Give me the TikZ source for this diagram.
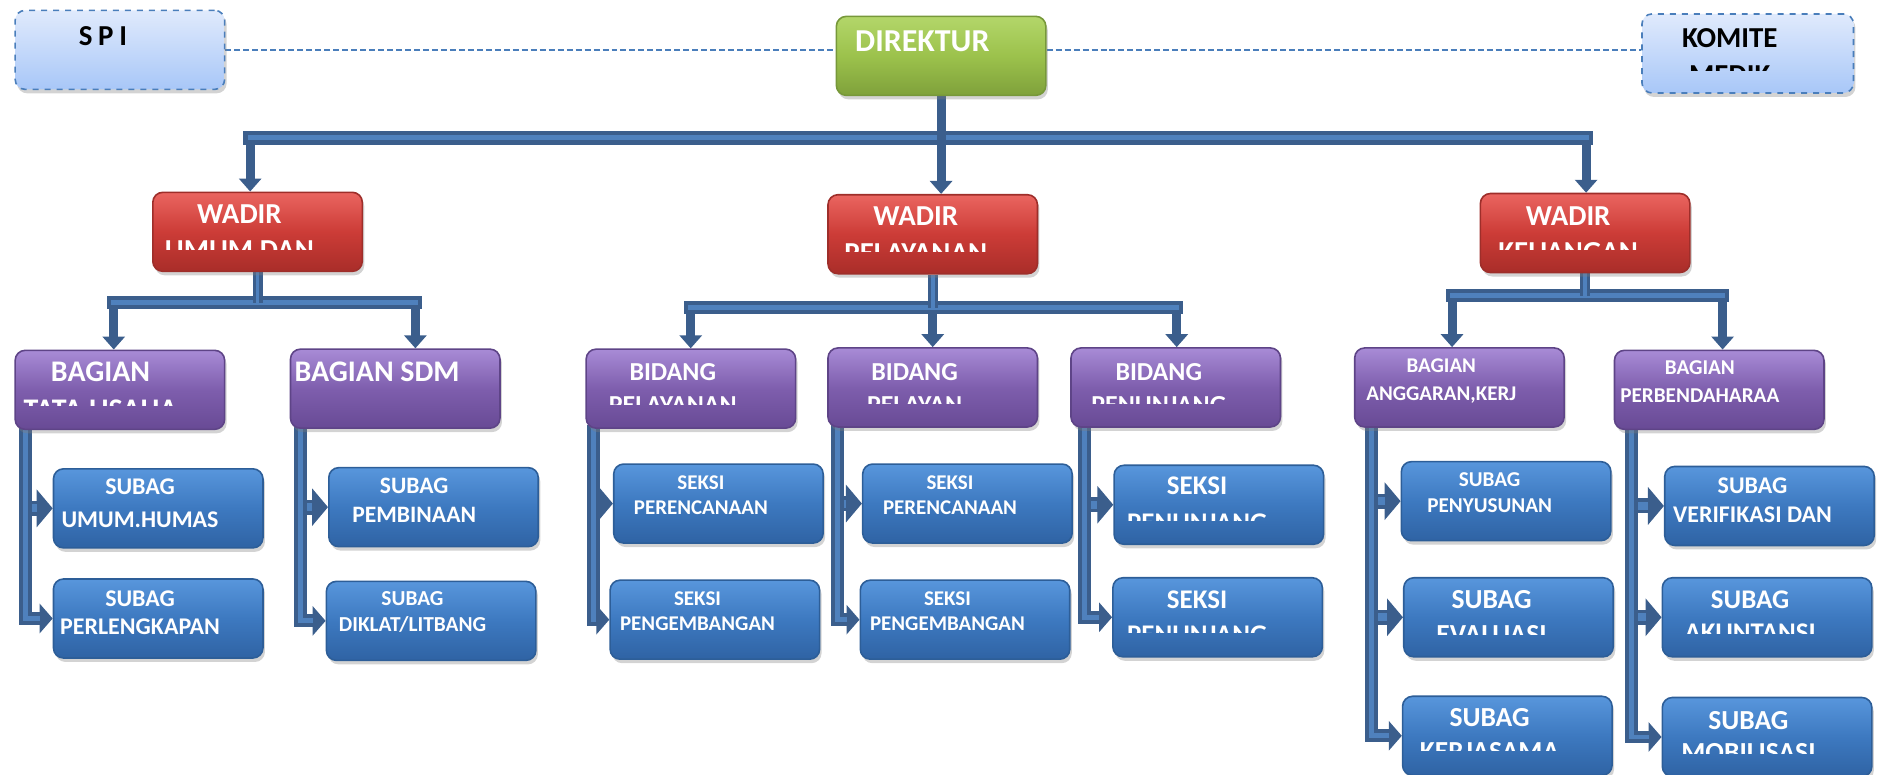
\documentclass[tikz,border=0pt]{standalone}
\usepackage{fontspec}
\setmainfont{Carlito}
\usetikzlibrary{arrows.meta,shadows,backgrounds}

\definecolor{linedark}{HTML}{3B5E8C}
\definecolor{linelight}{HTML}{4F81BD}
\definecolor{sideline}{HTML}{4A7EBB}
\definecolor{sidetop}{HTML}{E0EAFC}
\definecolor{sidebot}{HTML}{A8C7F8}
\definecolor{headline}{HTML}{77983A}
\definecolor{headtop}{HTML}{B3D66A}
\definecolor{headmid}{HTML}{9CC24C}
\definecolor{headbot}{HTML}{7FA13B}
\definecolor{wadirline}{HTML}{9E2E2A}
\definecolor{wadirtop}{HTML}{EA6560}
\definecolor{wadirmid}{HTML}{CC3C37}
\definecolor{wadirbot}{HTML}{A92D29}
\definecolor{unitline}{HTML}{5E4487}
\definecolor{unittop}{HTML}{A88BD6}
\definecolor{unitmid}{HTML}{7E5EAD}
\definecolor{unitbot}{HTML}{684A95}
\definecolor{subline}{HTML}{2D5E98}
\definecolor{subtop}{HTML}{5896DC}
\definecolor{submid}{HTML}{3D79C0}
\definecolor{subbot}{HTML}{2F63A4}

\begin{document}
\begin{tikzpicture}[x=0.6pt, y=-0.6pt,
  box/.style={rounded corners=5pt, minimum width=105pt, minimum height=39.6pt, anchor=north west, line width=0.8pt,
    drop shadow={shadow xshift=1pt, shadow yshift=-2pt, opacity=0.35}},
  sidebox/.style={box, draw=sideline, dashed, top color=sidetop, bottom color=sidebot},
  headbox/.style={box, draw=headline, top color=headtop, bottom color=headbot, middle color=headmid},
  wadirbox/.style={box, draw=wadirline, top color=wadirtop, bottom color=wadirbot, middle color=wadirmid},
  unitbox/.style={box, draw=unitline, top color=unittop, bottom color=unitbot, middle color=unitmid},
  subbox/.style={box, draw=subline, top color=subtop, bottom color=subbot, middle color=submid},
  lbl/.style 2 args={font=\fontsize{#1}{#2}\selectfont\bfseries, text=white, align=center, inner sep=0pt, anchor=north},
  bus/.style={draw=linedark, line width=7pt, line cap=rect, postaction={draw=linelight, line width=2.5pt}},
  stem/.style={draw=linedark, line width=5pt, postaction={draw=linelight, line width=1.8pt}},
  drop/.style={draw=linedark, line width=4.5pt, -{Triangle[length=6.5pt,width=11pt]}},
  trunk/.style={draw=linedark, line width=6.5pt, -{Triangle[length=6.5pt,width=14.5pt]},
    postaction={draw=linelight, line width=2.5pt, -, shorten >=6.5pt}},
  branch/.style={draw=linedark, line width=7.5pt, -{Triangle[length=8pt,width=18.5pt]},
    postaction={draw=linelight, line width=4pt, -, shorten >=8pt}},
  dashline/.style={draw=sideline, line width=0.8pt, dash pattern=on 3pt off 1.5pt}]
  \useasboundingbox (0,0) rectangle (1568,647);

  % top row
  \node[sidebox] (spi) at (12,8) {};
  \node[headbox] (dir) at (698,13) {};
  \node[sidebox, minimum width=106pt] (kom) at (1371,11) {};
  \node[lbl={14.5}{17}, text=black] (spit) at (86,21.5) {{\spaceskip=0.2em S P I}};
  \node[lbl={16}{19}] (dirt) at (770.5,25) {DIREKTUR};
  \begin{scope}
    \clip (kom.north west) rectangle (kom.east |- 0,58.5);
    \node[lbl={14.5}{18.4}, text=black] (komt) at (1445,23.7) {KOMITE\\MEDIK};
  \end{scope}

  % wakil direktur
  \node[wadirbox] (wum) at (127,160) {};
  \node[wadirbox] (wpl) at (691,162) {};
  \node[wadirbox] (wku) at (1236,161) {};
  \begin{scope}
    \clip (wum.north west) rectangle (wum.east |- 0,208.3);
    \node[lbl={14.5}{18}] (wumt) at (200,171) {WADIR\\UMUM DAN};
  \end{scope}
  \begin{scope}
    \clip (wpl.north west) rectangle (wpl.east |- 0,210);
    \node[lbl={14.5}{18.5}] (wplt) at (765,172.7) {WADIR\\PELAYANAN};
  \end{scope}
  \begin{scope}
    \clip (wku.north west) rectangle (wku.east |- 0,208.3);
    \node[lbl={14.5}{18}] (wkut) at (1310,172.6) {WADIR\\KEUANGAN};
  \end{scope}

  % bagian / bidang
  \node[unitbox] (btu) at (12,292) {};
  \node[unitbox] (bsdm) at (242,291) {};
  \node[unitbox] (bpl) at (489,291) {};
  \node[unitbox] (bpy) at (691,290) {};
  \node[unitbox] (bpn) at (894,290) {};
  \node[unitbox] (bag) at (1131,290) {};
  \node[unitbox] (bbd) at (1348,292) {};
  \begin{scope}
    \clip (btu.north west) rectangle (btu.east |- 0,339);
    \node[lbl={15}{19}] (btut) at (84,302) {BAGIAN\\TATA USAHA};
  \end{scope}
  \node[lbl={15}{19}] (bsdmt) at (315,302) {BAGIAN SDM};
  \begin{scope}
    \clip (bpl.north west) rectangle (bpl.east |- 0,338);
    \node[lbl={13}{16.5}] (bplt) at (562,303) {BIDANG\\PELAYANAN};
  \end{scope}
  \begin{scope}
    \clip (bpy.north west) rectangle (bpy.east |- 0,337);
    \node[lbl={13}{16.5}] (bpyt) at (764,303) {BIDANG\\PELAYAN};
  \end{scope}
  \begin{scope}
    \clip (bpn.north west) rectangle (bpn.east |- 0,337);
    \node[lbl={13}{16.5}] (bpnt) at (968,303) {BIDANG\\PENUNJANG};
  \end{scope}
  \node[lbl={10.5}{13.8}] (bagt) at (1204,299.4) {BAGIAN\\ANGGARAN,KERJ};
  \node[lbl={10.6}{13.6}] (bbdt) at (1420,301.3) {BAGIAN\\PERBENDAHARAA};

  % subbagian / seksi
  \node[subbox] (shum) at (44,391) {};
  \node[subbox] (sprl) at (44,483) {};
  \node[subbox] (spmb) at (274,390) {};
  \node[subbox] (sdik) at (272,485) {};
  \node[subbox] (sper1) at (512,387) {};
  \node[subbox] (speng1) at (509,484) {};
  \node[subbox] (sper2) at (720,387) {};
  \node[subbox] (speng2) at (718,484) {};
  \node[subbox] (spnj1) at (930,388) {};
  \node[subbox] (spnj2) at (929,482) {};
  \node[subbox] (spys) at (1170,385) {};
  \node[subbox] (sevl) at (1172,482) {};
  \node[subbox] (skrj) at (1171,581) {};
  \node[subbox] (svrf) at (1390,389) {};
  \node[subbox] (sakn) at (1388,482) {};
  \node[subbox] (smob) at (1388,582) {};

  \node[lbl={12}{16.7}] (shumt) at (117,399.6) {SUBAG\\UMUM.HUMAS};
  \node[lbl={12}{14.1}] (sprlt) at (117,493) {SUBAG\\PERLENGKAPAN};
  \node[lbl={11.8}{14.7}] (spmbt) at (346,398.8) {SUBAG\\PEMBINAAN};
  \node[lbl={10.7}{13}] (sdikt) at (344.6,493.5) {SUBAG\\DIKLAT/LITBANG};
  \node[lbl={10.5}{12.6}] (sper1t) at (585.5,396.8) {SEKSI\\PERENCANAAN};
  \node[lbl={10.5}{12.5}] (speng1t) at (582.7,494.3) {SEKSI\\PENGEMBANGAN};
  \node[lbl={10.5}{12.6}] (sper2t) at (793.6,396.8) {SEKSI\\PERENCANAAN};
  \node[lbl={10.5}{12.5}] (speng2t) at (791.5,494.3) {SEKSI\\PENGEMBANGAN};
  \begin{scope}
    \clip (spnj1.north west) rectangle (spnj1.east |- 0,434.4);
    \node[lbl={13.5}{18.4}] (spnj1t) at (1000,398.2) {SEKSI\\PENUNJANG};
  \end{scope}
  \begin{scope}
    \clip (spnj2.north west) rectangle (spnj2.east |- 0,528.5);
    \node[lbl={13.5}{17.5}] (spnj2t) at (1000,492.9) {SEKSI\\PENUNJANG};
  \end{scope}
  \node[lbl={10.6}{12.8}] (spyst) at (1244.4,394.9) {SUBAG\\PENYUSUNAN};
  \begin{scope}
    \clip (sevl.north west) rectangle (sevl.east |- 0,529.7);
    \node[lbl={13.8}{17.5}] (sevlt) at (1246,492.9) {SUBAG\\EVALUASI};
  \end{scope}
  \begin{scope}
    \clip (skrj.north west) rectangle (skrj.east |- 0,627);
    \node[lbl={13.8}{16.7}] (skrjt) at (1244.3,591.8) {SUBAG\\KERJASAMA};
  \end{scope}
  \node[lbl={12}{14.4}] (svrft) at (1464,398.8) {SUBAG\\VERIFIKASI DAN};
  \begin{scope}
    \clip (sakn.north west) rectangle (sakn.east |- 0,529.1);
    \node[lbl={13.5}{16.7}] (saknt) at (1462,492.9) {SUBAG\\AKUNTANSI};
  \end{scope}
  \begin{scope}
    \clip (smob.north west) rectangle (smob.east |- 0,629.3);
    \node[lbl={13.8}{16.4}] (smobt) at (1460.6,593.7) {SUBAG\\MOBILISASI};
  \end{scope}

  % connectors
  \begin{scope}[on background layer]
    \draw[dashline] (spi.east) -- (spi.east -| dir.west);
    \draw[dashline] (dir.east |- spi.east) -- (kom.west |- spi.east);

    \coordinate (busL) at (209,115);
    \coordinate (busR) at (1325,115);
    \draw[drop] (busL) -- (busL |- wum.north);
    \draw[drop] (busR) -- (busR |- wku.north);
    \draw[bus] (busL) -- (busR);
    \draw[drop] (dir.south) -- (dir.south |- wpl.north);

    \coordinate (umL) at (95,253);
    \coordinate (umR) at (347,253);
    \draw[drop] (umL) -- (umL |- btu.north);
    \draw[drop] (umR) -- (umR |- bsdm.north);
    \draw[bus, line width=6.5pt] (umL) -- (umR);
    \draw[stem] (wum.south) -- (wum.south |- umL);

    \coordinate (plL) at (577,257);
    \coordinate (plR) at (983,257);
    \draw[drop] (plL) -- (plL |- bpl.north);
    \draw[drop] (plR) -- (plR |- bpn.north);
    \draw[drop] (wpl.south) -- (wpl.south |- bpy.north);
    \draw[bus, line width=6.5pt] (plL) -- (plR);
    \draw[stem] (wpl.south) -- (wpl.south |- plL);

    \coordinate (kuL) at (1213,247);
    \coordinate (kuR) at (1439,247);
    \draw[drop] (kuL) -- (kuL |- bag.north);
    \draw[drop] (kuR) -- (kuR |- bbd.north);
    \draw[bus, line width=6.5pt] (kuL) -- (kuR);
    \draw[stem] (wku.south) -- (wku.south |- kuL);

    \draw[branch] ([xshift=-13.4pt]shum.west) -- (shum.west);
    \draw[trunk] ([xshift=5.8pt,yshift=2pt]btu.south west) |- (sprl.west);
    \draw[branch] ([xshift=-13.8pt]spmb.west) -- (spmb.west);
    \draw[trunk] ([xshift=5.4pt,yshift=2pt]bsdm.south west) |- (sdik.west);
    \draw[branch] ([xshift=-9.6pt]sper1.west) -- (sper1.west);
    \draw[trunk] ([xshift=4.2pt,yshift=2pt]bpl.south west) |- (speng1.west);
    \draw[branch] ([xshift=-12pt]sper2.west) -- (sper2.west);
    \draw[trunk] ([xshift=5.4pt,yshift=2pt]bpy.south west) |- (speng2.west);
    \draw[branch] ([xshift=-14.4pt]spnj1.west) -- (spnj1.west);
    \draw[trunk] ([xshift=7.2pt,yshift=2pt]bpn.south west) |- (spnj2.west);
    \draw[branch] ([xshift=-14.4pt]spys.west) -- (spys.west);
    \draw[branch] ([xshift=-15.6pt]sevl.west) -- (sevl.west);
    \draw[trunk] ([xshift=9pt,yshift=2pt]bag.south west) |- (skrj.west);
    \draw[branch] ([xshift=-16.5pt]svrf.west) -- (svrf.west);
    \draw[branch] ([xshift=-15.3pt]sakn.west) -- (sakn.west);
    \draw[trunk] ([xshift=8.7pt,yshift=2pt]bbd.south west) |- (smob.west);
  \end{scope}
\end{tikzpicture}
\end{document}
